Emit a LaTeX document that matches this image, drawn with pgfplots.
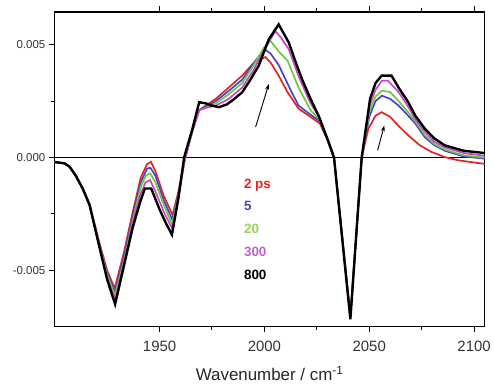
\documentclass[border=0pt]{standalone}
\usepackage{fontspec}
\setmainfont{Liberation Sans}
\usepackage{pgfplots}
\pgfplotsset{compat=1.18}
\usetikzlibrary{arrows.meta}
\definecolor{cred}{RGB}{228,35,35}
\definecolor{cblue}{RGB}{70,70,200}
\definecolor{cgreen}{RGB}{110,200,60}
\definecolor{cmag}{RGB}{200,70,200}
\definecolor{lblue}{RGB}{80,70,190}
\definecolor{lgreen}{RGB}{150,210,80}
\definecolor{lmag}{RGB}{190,100,200}
\begin{document}
\begin{tikzpicture}
\begin{axis}[
  scale only axis, width=432pt, height=316pt,
  xmin=1900, xmax=2105, ymin=-0.00748, ymax=0.00645,
  axis line style={line width=1.3pt},
  tick align=outside, xtick pos=both, ytick pos=left,
  major tick length=6pt, minor tick length=4pt,
  every tick/.style={black, line width=1pt},
  xtick={1950,2000,2050,2100}, minor x tick num=1,
  xticklabels={1950,2000,2050,2100},
  ytick={-0.005,0,0.005}, yticklabels={-0.005,0.000,0.005}, minor y tick num=1,
  scaled y ticks=false,
  /pgf/number format/1000 sep={},
  /pgf/number format/assume math mode=true,
  xticklabel style={font=\fontsize{15}{17}\selectfont, text=black!80, yshift=-5pt},
  yticklabel style={font=\fontsize{11.5}{13}\selectfont, text=black!80},
  xlabel={Wavenumber / cm\textsuperscript{-1}},
  xlabel style={font=\fontsize{17}{19}\selectfont, text=black!85, yshift=-8pt},
  clip=true,
]
\addplot[black, line width=1.1pt, forget plot] coordinates {(1900,0) (2105,0)};
% 2 ps
\addplot[cred, line width=1.7pt] coordinates {(1900,-0.0002)(1904.7,-0.00026)(1907.1,-0.0004)(1910,-0.00078)(1913.3,-0.00135)(1916.6,-0.00205)(1921.4,-0.0038)(1925,-0.0050)(1928.6,-0.0058)(1933,-0.0042)(1937,-0.0025)(1941,-0.0009)(1944,-0.0003)(1945.9,-0.00019)(1948,-0.0006)(1952,-0.0017)(1956.2,-0.00254)(1959,-0.0015)(1962,-0.0001)(1965.7,0.0012)(1968.9,0.0021)(1972,0.0023)(1976.8,0.0026)(1983,0.0031)(1989.4,0.00363)(1995,0.0042)(2000.5,0.00445)(2003,0.0042)(2006.8,0.00363)(2011,0.0029)(2016.3,0.00216)(2022,0.0018)(2026.5,0.0015)(2030,0.0008)(2033.2,0)(2041,-0.0070)(2046.4,0)(2049.6,0.00128)(2053,0.00185)(2055.9,0.00201)(2060,0.0018)(2064,0.0014)(2068.6,0.00098)(2074,0.00055)(2079.6,0.00025)(2086,0.00002)(2092.3,-0.00012)(2100,-0.00022)(2105,-0.00028)};
% 5 ps
\addplot[cblue, line width=1.7pt] coordinates {(1900,-0.0002)(1904.7,-0.00026)(1907.1,-0.0004)(1910,-0.00079)(1913.3,-0.00136)(1916.6,-0.00207)(1921.4,-0.0039)(1925,-0.0051)(1928.7,-0.00595)(1933,-0.0044)(1937,-0.0027)(1941,-0.0011)(1944,-0.0005)(1945.6,-0.00045)(1948,-0.0008)(1952,-0.0019)(1956.1,-0.00275)(1959,-0.0016)(1962,-0.0001)(1965.7,0.0012)(1968.9,0.0021)(1972,0.00225)(1976.8,0.0025)(1983,0.00295)(1989.4,0.00345)(1995,0.0042)(2000,0.0048)(2003,0.0046)(2006.8,0.0041)(2010,0.00348)(2013,0.0029)(2016.3,0.0023)(2022,0.0019)(2026.5,0.0016)(2030,0.0008)(2033.2,0)(2041,-0.00705)(2046.4,0)(2050,0.0018)(2053,0.0025)(2056,0.00274)(2060,0.0026)(2064,0.0023)(2068.6,0.00185)(2072,0.0015)(2076.5,0.0009)(2081,0.00055)(2086,0.0003)(2095,0.00005)(2105,-0.00005)};
% 20 ps
\addplot[cgreen, line width=1.7pt] coordinates {(1900,-0.0002)(1904.7,-0.00026)(1907.1,-0.0004)(1910,-0.0008)(1913.3,-0.00136)(1916.6,-0.00208)(1921.4,-0.0039)(1925,-0.0052)(1928.7,-0.0061)(1933,-0.0046)(1937,-0.0029)(1941,-0.0013)(1943.5,-0.0008)(1945.5,-0.0007)(1948,-0.0011)(1952,-0.0021)(1956,-0.00295)(1959,-0.0017)(1962,-0.0001)(1965.7,0.0012)(1968.9,0.0021)(1972,0.0022)(1976.8,0.0024)(1983,0.0028)(1989.4,0.0033)(1995,0.0041)(2000,0.0049)(2002.9,0.00517)(2006.8,0.0047)(2011,0.0043)(2016.3,0.0031)(2022,0.0021)(2026.5,0.00165)(2030,0.0008)(2033.2,0)(2041,-0.0071)(2046.4,0)(2050,0.0020)(2053,0.0027)(2056,0.00296)(2060,0.0029)(2064,0.0025)(2068.6,0.0020)(2072,0.0016)(2076.5,0.0010)(2081,0.0006)(2086,0.00035)(2095,0.0001)(2105,0)};
% 300 ps
\addplot[cmag, line width=1.7pt] coordinates {(1900,-0.0002)(1904.7,-0.00026)(1907.1,-0.0004)(1910,-0.0008)(1913.3,-0.00137)(1916.6,-0.00209)(1921.4,-0.0039)(1925,-0.0053)(1928.8,-0.0063)(1933,-0.0047)(1937,-0.003)(1941,-0.0016)(1943.3,-0.0011)(1945.5,-0.001)(1948,-0.0015)(1952,-0.0024)(1956,-0.00315)(1959,-0.0018)(1962,-0.0001)(1965.7,0.0012)(1968.9,0.0021)(1972,0.0022)(1976.8,0.0023)(1983,0.0026)(1989.4,0.0031)(1995,0.0039)(2000,0.0048)(2005.3,0.0056)(2008,0.0053)(2011.6,0.0048)(2016.3,0.0036)(2022,0.0024)(2026.5,0.00175)(2030,0.0008)(2033.2,0)(2041,-0.0071)(2046.4,0)(2050.2,0.0023)(2053,0.0030)(2056,0.0034)(2059,0.0034)(2064,0.0029)(2068.6,0.00225)(2072,0.0017)(2076.5,0.00115)(2081,0.0007)(2086,0.00045)(2095,0.0002)(2105,0.00008)};
% 800 ps
\addplot[black, line width=2.4pt] coordinates {(1900,-0.0002)(1904.7,-0.00026)(1907.1,-0.00041)(1910,-0.0008)(1913.3,-0.00137)(1916.6,-0.0021)(1921.4,-0.0040)(1925,-0.0054)(1928.8,-0.0065)(1933,-0.0048)(1937.2,-0.0031)(1941,-0.0019)(1943,-0.00137)(1946,-0.00137)(1950,-0.0023)(1953,-0.0029)(1955.9,-0.00342)(1959,-0.0018)(1961.7,0)(1965.7,0.00128)(1968.9,0.00245)(1972,0.0024)(1975,0.0023)(1978.3,0.00223)(1982,0.00235)(1985,0.00255)(1989.4,0.00289)(1993,0.0034)(1997.3,0.00407)(2002.1,0.00524)(2006.8,0.0059)(2011.6,0.0051)(2015,0.0042)(2017.9,0.00348)(2022,0.0026)(2025.8,0.00186)(2030.6,0.00069)(2033.2,0)(2041,-0.00717)(2046.4,0)(2050.4,0.0026)(2053,0.0033)(2055.9,0.00363)(2060.6,0.00363)(2064,0.0031)(2068.6,0.00245)(2072,0.00185)(2076.5,0.00128)(2081,0.00085)(2086,0.00054)(2095,0.0003)(2105,0.0002)};
\draw[-{Stealth[length=6pt,width=4pt]}, line width=0.9pt] (axis cs:1995.8,0.00135) -- (axis cs:2002.1,0.00326);
\draw[-{Stealth[length=6pt,width=4pt]}, line width=0.9pt] (axis cs:2054,0.00032) -- (axis cs:2057.2,0.00142);
\begin{scope}[every node/.style={anchor=west, inner sep=0pt, font=\fontsize{13.5}{15}\selectfont\bfseries}]
\node[text=cred] at (axis cs:1990.2,-0.00122) {2 ps};
\node[text=lblue] at (axis cs:1990.2,-0.00216) {5};
\node[text=lgreen] at (axis cs:1990.2,-0.00317) {20};
\node[text=lmag] at (axis cs:1990.2,-0.00418) {300};
\node[text=black] at (axis cs:1990.2,-0.00518) {800};
\end{scope}
\end{axis}
\path ([xshift=-55pt,yshift=-62pt]current axis.south west) rectangle ([xshift=7pt,yshift=12pt]current axis.north east);
\end{tikzpicture}
\end{document}
